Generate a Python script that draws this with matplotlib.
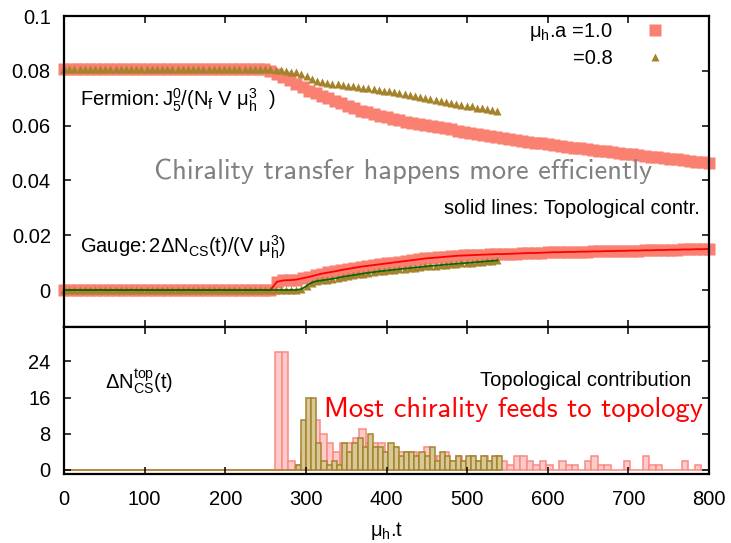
import matplotlib
matplotlib.use("Agg")
import matplotlib.pyplot as plt
import numpy as np

plt.rcParams["font.family"] = ["Liberation Sans", "DejaVu Sans"]
plt.rcParams["mathtext.fontset"] = "custom"
plt.rcParams["mathtext.rm"] = "Liberation Sans"
plt.rcParams["mathtext.it"] = "Liberation Sans"
plt.rcParams["mathtext.default"] = "regular"

SALMON = "#fa8072"
GOLD = "#a4832a"

# ---- top panel: chirality densities (mu_h.a = 1.0 sampled every 8, 0.8 every 6.4)
fermion_a10 = [0.0805] * 32 + [
    0.0798, 0.0789, 0.0778, 0.0765, 0.0752, 0.0740, 0.0728, 0.0718, 0.0708, 0.0699,
    0.0690, 0.0681, 0.0672, 0.0663, 0.0655, 0.0648, 0.0641, 0.0635, 0.0630, 0.0625,
    0.0620, 0.0615, 0.0611, 0.0607, 0.0603, 0.0598, 0.0594, 0.0590, 0.0586, 0.0582,
    0.0578, 0.0574, 0.0570, 0.0566, 0.0563, 0.0559, 0.0556, 0.0552, 0.0549, 0.0545,
    0.0542, 0.0538, 0.0535, 0.0532, 0.0529, 0.0526, 0.0523, 0.0520, 0.0517, 0.0515,
    0.0512, 0.0509, 0.0506, 0.0503, 0.0500, 0.0498, 0.0495, 0.0492, 0.0489, 0.0487,
    0.0484, 0.0482, 0.0479, 0.0477, 0.0474, 0.0472, 0.0469, 0.0467, 0.0464]
gauge_a10 = [0.0] * 33 + [
    0.0030, 0.0035, 0.0036, 0.0038, 0.0043, 0.0048, 0.0054, 0.0060, 0.0064, 0.0068,
    0.0073, 0.0077, 0.0081, 0.0085, 0.0088, 0.0091, 0.0094, 0.0097, 0.0100, 0.0103,
    0.0106, 0.0109, 0.0112, 0.0115, 0.0117, 0.0119, 0.0121, 0.0123, 0.0125, 0.0126,
    0.0127, 0.0128, 0.0129, 0.0130, 0.0131, 0.0131, 0.0132, 0.0133, 0.0134, 0.0135,
    0.0135, 0.0136, 0.0137, 0.0138, 0.0138, 0.0139, 0.0139, 0.0140, 0.0140, 0.0141,
    0.0141, 0.0142, 0.0142, 0.0143, 0.0143, 0.0144, 0.0144, 0.0145, 0.0145, 0.0146,
    0.0146, 0.0147, 0.0147, 0.0148, 0.0148, 0.0149, 0.0149, 0.0150]
fermion_a08 = [0.0805] * 41 + [
    0.0804, 0.0802, 0.0800, 0.0797, 0.0794, 0.0790, 0.0782, 0.0771, 0.0763, 0.0759,
    0.0756, 0.0753, 0.0751, 0.0748, 0.0746, 0.0743, 0.0741, 0.0739, 0.0736, 0.0733,
    0.0731, 0.0728, 0.0725, 0.0722, 0.0719, 0.0715, 0.0712, 0.0708, 0.0705, 0.0701,
    0.0698, 0.0694, 0.0691, 0.0687, 0.0684, 0.0680, 0.0677, 0.0673, 0.0670, 0.0666,
    0.0663, 0.0659, 0.0656, 0.0652]
gauge_a08 = [0.0] * 46 + [
    0.0003, 0.0015, 0.0027, 0.0033, 0.0035, 0.0038, 0.0041, 0.0044, 0.0048, 0.0051,
    0.0054, 0.0057, 0.0060, 0.0063, 0.0065, 0.0068, 0.0070, 0.0072, 0.0074, 0.0076,
    0.0078, 0.0080, 0.0082, 0.0084, 0.0086, 0.0088, 0.0089, 0.0091, 0.0093, 0.0094,
    0.0096, 0.0097, 0.0099, 0.0100, 0.0102, 0.0103, 0.0105, 0.0106, 0.0108]

# ---- bottom panel: Delta N_CS^top per time bin
hist_a10 = [0] * 33 + [
    26, 26, 2, 1, 4, 12, 11, 8, 6, 4, 6, 6, 7, 9, 6, 6, 6, 4, 5, 4,
    4, 4, 3, 5, 3, 3, 4, 2, 3, 2, 3, 2, 3, 2, 3, 2, 1, 3, 3, 2,
    1, 2, 1, 0, 2, 1, 1, 0, 2, 3, 1, 1, 0, 0, 2, 0, 0, 3, 1, 1,
    0, 0, 0, 2, 0, 1, 0]
hist_a08 = [0] * 45 + [
    1, 11, 16, 16, 6, 2, 1, 2, 1, 6, 4, 6, 7, 5, 8, 5, 5, 4, 6, 5,
    3, 4, 4, 3, 4, 3, 5, 2, 4, 3, 2, 3, 2, 3, 3, 2, 3, 2, 3, 3]

t_a10 = np.arange(len(fermion_a10)) * 8.0
t_a08 = np.arange(len(fermion_a08)) * 6.4
bins_a10 = np.arange(len(hist_a10)) * 8.0 - 2.0
bins_a08 = np.arange(len(hist_a08)) * 6.4 - 0.8

FS = 14.5

fig = plt.figure(figsize=(7.31, 5.43), dpi=100)
ax1 = fig.add_axes([0.0876, 0.3978, 0.8824, 0.5727])
ax2 = fig.add_axes([0.0876, 0.1271, 0.8824, 0.2707])

# top panel
ax1.plot(t_a10, fermion_a10, "s", ms=8.3, color=SALMON, mec="none",
         clip_on=False, label=r"$\mu_h$.a =1.0")
ax1.plot(t_a10, gauge_a10, "s", ms=8.3, color=SALMON, mec="none", clip_on=False)
ax1.plot(t_a08, fermion_a08, "^", ms=5.5, color=GOLD, mec="none",
         clip_on=False, label="=0.8")
ax1.plot(t_a08, gauge_a08, "^", ms=5.5, color=GOLD, mec="none", clip_on=False)
ax1.plot(t_a10, gauge_a10, "-", color="red", lw=1.3)
ax1.plot(t_a08, gauge_a08, "-", color="#0c650c", lw=1.3)

ax1.set_xlim(0, 800)
ax1.set_ylim(-0.0135, 0.1)
ax1.set_xticks(np.arange(0, 801, 100))
ax1.set_yticks([0, 0.02, 0.04, 0.06, 0.08, 0.1],
               ["0", "0.02", "0.04", "0.06", "0.08", "0.1"])
ax1.tick_params(labelbottom=False)

ax1.legend(loc="upper right", bbox_to_anchor=(0.947, 0.985), frameon=False,
           markerfirst=False, fontsize=FS, handlelength=2, handletextpad=1.1,
           borderpad=0, borderaxespad=0, labelspacing=0.3, numpoints=1)

ax1.text(20, 0.0693, r"Fermion:$\,J_5^0/(N_f\ V\ \mu_h^3\ \ )$", fontsize=FS,
         va="center", ha="left")
ax1.text(20, 0.0157, r"Gauge:$\,2\Delta N_{CS}(t)/(V\ \mu_h^3)$", fontsize=FS,
         va="center", ha="left")
ax1.text(421, 0.0432, "Chirality transfer happens more efficiently",
         fontfamily="cmss10", fontsize=20.5, color="#808080", va="center", ha="center")
ax1.text(788, 0.0299, "solid lines: Topological contr.", fontsize=FS,
         va="center", ha="right")

# bottom panel
ax2.bar(bins_a10, hist_a10, width=8.0, align="edge", facecolor="#ffcaca",
        edgecolor="#f98a84", linewidth=1.1)
ax2.bar(bins_a08, hist_a08, width=6.4, align="edge", facecolor="#d8c898",
        edgecolor=GOLD, linewidth=1.1)
ax2.set_xlim(0, 800)
ax2.set_ylim(-0.9, 31.6)
ax2.set_xticks(np.arange(0, 801, 100))
ax2.set_yticks([0, 8, 16, 24])
ax2.set_xlabel(r"$\mu_h$.t", fontsize=FS, labelpad=8)

ax2.text(51, 19.6, r"$\Delta N_{CS}^{top}(t)$", fontsize=FS, va="center", ha="left")
ax2.text(778, 19.8, "Topological contribution", fontsize=FS, va="center", ha="right")
ax2.text(792, 13.3, "Most chirality feeds to topology", fontfamily="cmss10",
         fontsize=20.5, color="red", va="center", ha="right")

for ax in (ax1, ax2):
    ax.tick_params(direction="in", top=True, right=True, length=5, width=1.1,
                   labelsize=FS)
    for sp in ax.spines.values():
        sp.set_linewidth(1.6)
    ax.tick_params(axis="y", pad=9.5)
ax2.tick_params(axis="x", pad=11.5)

fig.savefig("out.png", dpi=100)
